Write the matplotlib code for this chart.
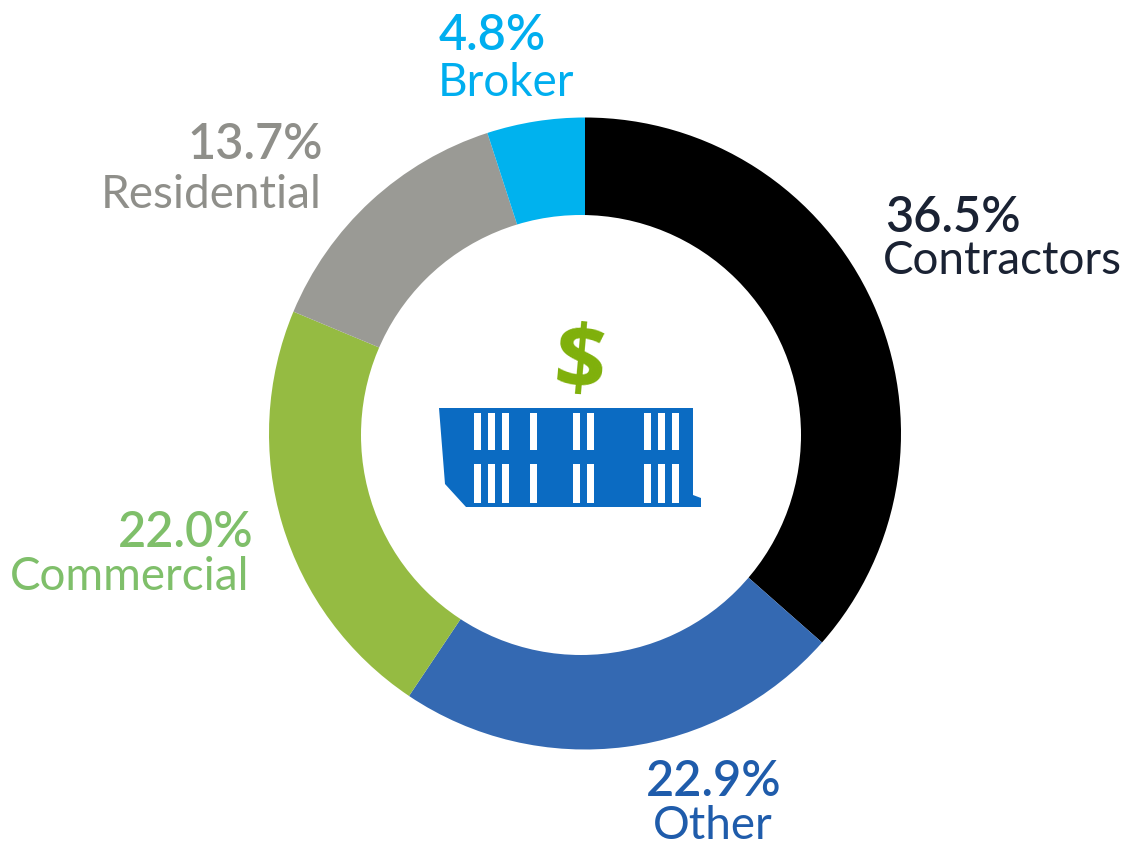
"""
Donut chart - revenue share by customer type
"""

import matplotlib
matplotlib.use('Agg')
import matplotlib.pyplot as plt
from matplotlib.patches import Polygon, Rectangle, Circle

# Datos
categories = ['Contractors', 'Other', 'Commercial', 'Residential', 'Broker']
values = [36.5, 22.9, 22.0, 13.7, 4.8]
# los rotulos suman 100.9, los sectores medidos en el dibujo suman 100
slice_shares = [36.5, 22.9, 21.9, 13.7, 5.0]
slice_colors = ['#000000', '#3469b2', '#95bb42', '#9a9a95', '#00b2ee']
label_colors = ['#1a2233', '#1f5cab', '#7fbf6a', '#8f8f8a', '#00aeef']

# Posiciones de las etiquetas en pixeles: (x, y, alineacion)
pct_pos = [(885, 218, 'left'), (781, 782, 'right'), (253, 533, 'right'),
           (323, 145, 'right'), (439, 36, 'left')]
name_pos = [(883, 261, 'left'), (773, 826, 'right'), (249, 577, 'right'),
            (322, 195, 'right'), (574, 83, 'right')]

W, H = 1125, 847
plt.rcParams['font.family'] = ['Lato', 'DejaVu Sans']

fig = plt.figure(figsize=(W / 100, H / 100), dpi=100)
ax = fig.add_axes([0, 0, 1, 1])
ax.set_xlim(0, W)
ax.set_ylim(H, 0)
ax.axis('off')
ax.set_zorder(2)

# Anillo: pie en un eje propio, centrado en (585, 433.5) con radio 316 px
R = 316
pie_ax = fig.add_axes([(585 - R) / W, 1 - (433.5 + R) / H, 2 * R / W, 2 * R / H])
pie_ax.pie(slice_shares, colors=slice_colors, startangle=90, counterclock=False,
           radius=1, wedgeprops=dict(linewidth=0))
pie_ax.set_xlim(-1, 1)
pie_ax.set_ylim(-1, 1)

# El hueco no esta centrado en el anillo
ax.add_patch(Circle((581, 435), 220, facecolor='white', edgecolor='none'))

for name, val, col, p, n in zip(categories, values, label_colors, pct_pos, name_pos):
    ax.text(p[0], p[1], f'{val:.1f}%', color=col, fontsize=35, fontweight='semibold',
            ha=p[2], va='center')
    ax.text(n[0], n[1], name, color=col, fontsize=33, ha=n[2], va='center')

# Icono central: edificio y signo de dolar
blue = '#0b6bc2'
ax.add_patch(Polygon([(439, 408), (693, 408), (693, 495), (701, 498), (701, 507),
                      (466, 507), (445, 484)], closed=True, facecolor=blue, edgecolor='none'))
window_x = [474, 488, 502, 530, 573, 587, 644, 658, 672]
for wx in window_x:
    ax.add_patch(Rectangle((wx, 413), 7, 37, facecolor='white', edgecolor='none'))
    ax.add_patch(Rectangle((wx, 464), 7, 39, facecolor='white', edgecolor='none'))
ax.text(579, 366, '$', color='#7fb00a', fontsize=65, fontweight='bold', ha='center', va='center',
        family='Open Sans', rotation=-5)

plt.savefig('out.png', dpi=100)
